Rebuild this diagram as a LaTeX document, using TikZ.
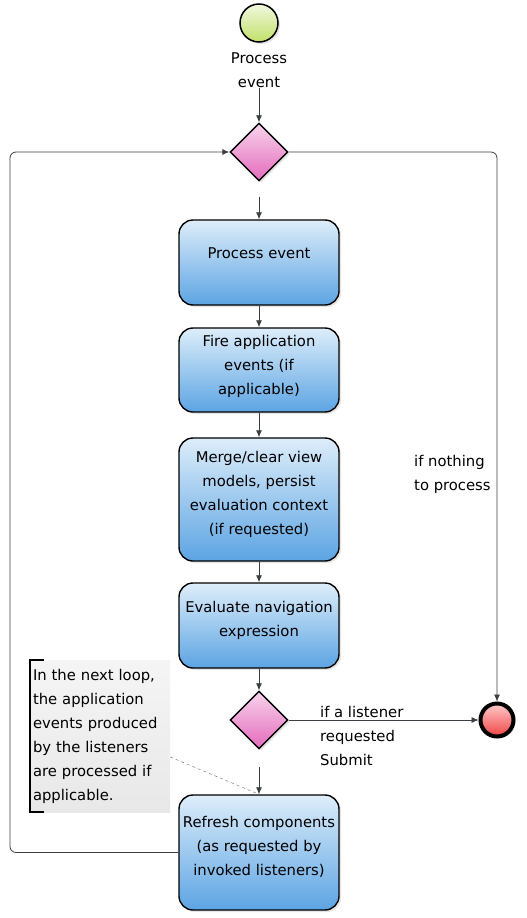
\documentclass[tikz,border=0pt]{standalone}
\usepackage{fontspec}
\setmainfont{DejaVu Sans}
\usetikzlibrary{arrows.meta,positioning,shapes.geometric,shadows}
\definecolor{taskTop}{HTML}{DDEDFA}
\definecolor{taskBot}{HTML}{5CA4E3}
\definecolor{gateTop}{HTML}{F7D4EB}
\definecolor{gateBot}{HTML}{E46ABD}
\definecolor{goTop}{HTML}{F0F8DE}
\definecolor{goBot}{HTML}{C2E06A}
\definecolor{endTop}{HTML}{FFCACA}
\definecolor{endBot}{HTML}{F04545}
\definecolor{wire}{HTML}{3A3F44}
\tikzset{
  lbl/.style={font=\fontsize{14.8}{24}\selectfont,inner sep=0pt},
  task/.style={rectangle,rounded corners=14pt,draw,line width=1.4pt,
    minimum width=160pt,align=center,inner sep=0pt,text depth=14pt,
    top color=taskTop,bottom color=taskBot,
    drop shadow={shadow xshift=2pt,shadow yshift=-2pt,fill=black!20},
    font=\fontsize{14.8}{24}\selectfont},
  gate/.style={diamond,draw,line width=1.4pt,minimum width=58pt,
    minimum height=58pt,inner sep=0pt,top color=gateTop,bottom color=gateBot,
    drop shadow={shadow xshift=2pt,shadow yshift=-2pt,fill=black!20}},
  ev/.style={circle,draw,inner sep=0pt,
    drop shadow={shadow xshift=2pt,shadow yshift=-2pt,fill=black!20}},
  note/.style={rectangle,inner ysep=0pt,inner xsep=3pt,minimum width=140pt,
    minimum height=152pt,top color=black!4,bottom color=black!9,
    text width=134pt,align=left,font=\fontsize{14.8}{24}\selectfont}
}
\tikzstyle{flow} = [-{Latex[length=7pt,width=6pt]},draw=wire,line width=0.8pt]
\begin{document}
\begin{tikzpicture}[x=1pt,y=-1pt]
  \useasboundingbox (0,0) rectangle (527,918);
  % events and gateways
  \node[ev,line width=1.5pt,minimum size=38pt,top color=goTop,bottom color=goBot]
    (go) at (259,23) {};
  \node[lbl,align=center] (golbl) at (259,70) {Process\\event};
  \node[gate] (gw) at (259,152) {};
  \coordinate (gwout) at (259,197);
  % tasks
  \node[task,minimum height=85pt,text depth=19pt] (proc) at (259,262.5)
    {Process event};
  \node[task,minimum height=84pt,text depth=10pt] (fire) at (259,370)
    {Fire application\\events (if\\applicable)};
  \node[task,minimum height=123pt] (merge) at (259,499.5)
    {Merge/clear view\\models, persist\\evaluation context\\(if requested)};
  \node[task,minimum height=85pt] (nav) at (259,625.5)
    {Evaluate navigation\\expression};
  \node[gate] (gw2) at (259,720) {};
  \coordinate (gw2out) at (259,767);
  \node[task,minimum height=115pt] (refresh) at (259,852.5)
    {Refresh components\\(as requested by\\invoked listeners)};
  \node[ev,line width=4pt,minimum size=33pt,top color=endTop,bottom color=endBot]
    (stop) at (497,720) {};
  % note
  \node[note] (memo) at (100,736)
    {In the next loop,\\the application\\events produced\\by the listeners\\are processed if\\applicable.};
  \draw[line width=1.6pt] ([xshift=14pt]memo.north west) -- (memo.north west)
    -- (memo.south west) -- ++(14,0);
  \draw[dashed,draw=black!60] ([yshift=-21pt]memo.east) -- (refresh.north);
  % connectors
  \draw[flow] (golbl.south) -- (gw.north);
  \draw[flow] (gwout) -- (proc.north);
  \draw[flow] (proc) -- (fire);
  \draw[flow] (fire) -- (merge);
  \draw[flow] (merge) -- (nav);
  \draw[flow] (nav) -- (gw2.north);
  \draw[flow] (gw2out) -- (refresh.north);
  \draw[flow] (gw2.east) -- (stop.west);
  \draw[flow,rounded corners=6pt] (refresh.west) -| (10,152) -- (gw.west);
  \draw[flow,rounded corners=6pt] (gw.east) -| (stop.north);
  % labels
  \node[lbl,align=left,anchor=west] (nolbl) at (414,474) {if nothing\\to process};
  \node[lbl,align=left,anchor=west] (sublbl) at (320,736)
    {if a listener\\requested\\Submit};
\end{tikzpicture}
\end{document}
